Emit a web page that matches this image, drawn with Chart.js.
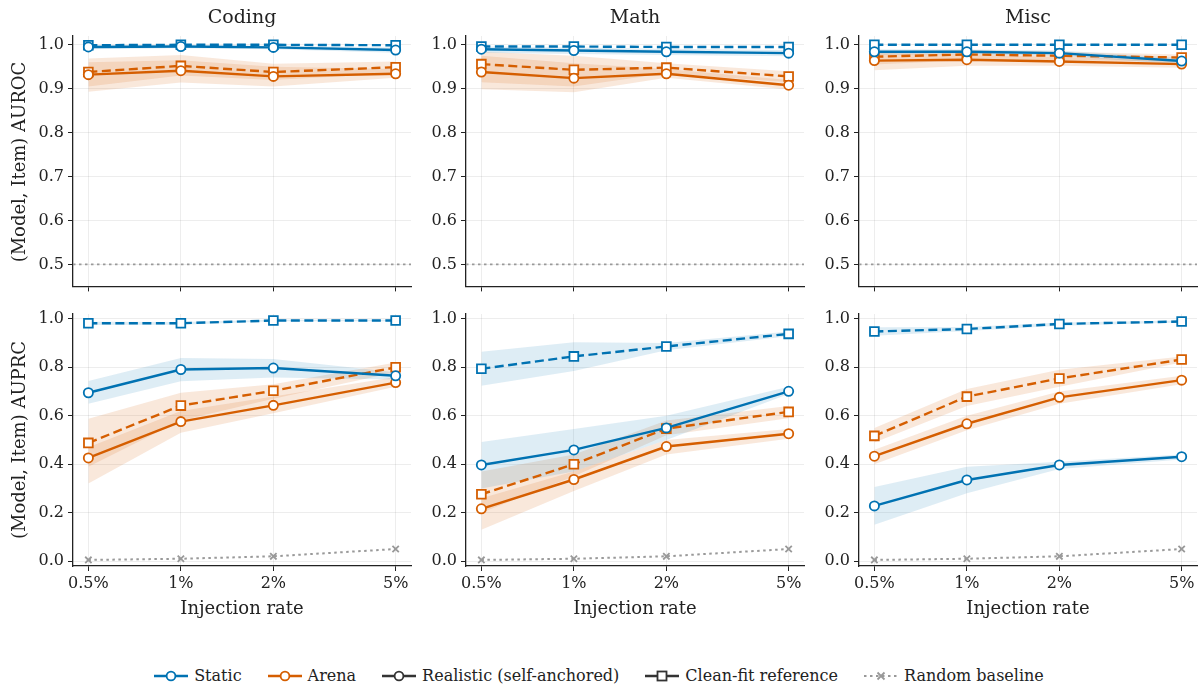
<!DOCTYPE html>
<html>
<head>
<meta charset="utf-8">
<script src="https://cdn.jsdelivr.net/npm/chart.js@4/dist/chart.umd.min.js"></script>
<style>
body{margin:0;width:1198px;height:687px;background:#fff;position:relative;overflow:hidden;font-family:'DejaVu Serif',serif;color:#222}
canvas{position:absolute}
.txt{position:absolute;white-space:nowrap;transform:translate(-50%,-50%)}
.title{font-size:19px}
.xlab{font-size:18px}
.ylab{font-size:18px;transform:translate(-50%,-50%) rotate(-90deg)}
#legend{position:absolute;left:0;width:1198px;top:666px;display:flex;justify-content:center;gap:26px;font-size:16px}
#legend span{display:flex;align-items:center;gap:6px}
</style>
</head>
<body>
<canvas id="c0" width="399" height="280" style="left:13px;top:20px"></canvas>
<canvas id="c1" width="399" height="280" style="left:406px;top:20px"></canvas>
<canvas id="c2" width="399" height="280" style="left:799px;top:20px"></canvas>
<canvas id="c3" width="399" height="304" style="left:13px;top:298px"></canvas>
<canvas id="c4" width="399" height="304" style="left:406px;top:298px"></canvas>
<canvas id="c5" width="399" height="304" style="left:799px;top:298px"></canvas>

<div class="txt title" style="left:242px;top:16px">Coding</div>
<div class="txt title" style="left:635px;top:16px">Math</div>
<div class="txt title" style="left:1028px;top:16px">Misc</div>
<div class="txt ylab" style="left:18px;top:162px">(Model, Item) AUROC</div>
<div class="txt ylab" style="left:18px;top:440px">(Model, Item) AUPRC</div>
<div class="txt xlab" style="left:242px;top:607px">Injection rate</div>
<div class="txt xlab" style="left:635px;top:607px">Injection rate</div>
<div class="txt xlab" style="left:1028px;top:607px">Injection rate</div>

<div id="legend">
  <span><svg width="34" height="12"><line x1="0" y1="6" x2="34" y2="6" stroke="#0072B2" stroke-width="2.4"/><circle cx="17" cy="6" r="4.4" fill="#fff" stroke="#0072B2" stroke-width="1.8"/></svg>Static</span>
  <span><svg width="34" height="12"><line x1="0" y1="6" x2="34" y2="6" stroke="#D55E00" stroke-width="2.4"/><circle cx="17" cy="6" r="4.4" fill="#fff" stroke="#D55E00" stroke-width="1.8"/></svg>Arena</span>
  <span><svg width="34" height="12"><line x1="0" y1="6" x2="34" y2="6" stroke="#333" stroke-width="2.4"/><circle cx="17" cy="6" r="4.4" fill="#fff" stroke="#333" stroke-width="1.8"/></svg>Realistic (self-anchored)</span>
  <span><svg width="34" height="12"><line x1="0" y1="6" x2="34" y2="6" stroke="#333" stroke-width="2.4"/><rect x="12.5" y="1.5" width="9" height="9" fill="#fff" stroke="#333" stroke-width="1.8"/></svg>Clean-fit reference</span>
  <span><svg width="34" height="12"><line x1="0" y1="6" x2="34" y2="6" stroke="#999" stroke-width="2.2" stroke-dasharray="2.5,3.5"/><path d="M13.5 2.5 L20.5 9.5 M20.5 2.5 L13.5 9.5" stroke="#999" stroke-width="1.8"/></svg>Random baseline</span>
</div>

<script>
// injection rates (%), log x axis
const rates = [0.5, 1, 2, 5];
const rateLabels = ['0.5%', '1%', '2%', '5%'];

// AUROC - Coding
const rocCodingStatic = [0.995, 0.996, 0.994, 0.988];
const rocCodingStaticBand = [[0.990, 0.999], [0.992, 0.999], [0.990, 0.998], [0.982, 0.994]];
const rocCodingStaticClean = [0.999, 1.0, 1.0, 0.999];
const rocCodingArena = [0.932, 0.941, 0.928, 0.934];
const rocCodingArenaBand = [[0.893, 0.960], [0.914, 0.965], [0.905, 0.950], [0.925, 0.945]];
const rocCodingArenaClean = [0.938, 0.952, 0.938, 0.949];
const rocCodingArenaCleanBand = [[0.905, 0.969], [0.930, 0.977], [0.920, 0.957], [0.935, 0.962]];

// AUROC - Math
const rocMathStatic = [0.990, 0.987, 0.984, 0.981];
const rocMathStaticBand = [[0.982, 0.996], [0.979, 0.994], [0.977, 0.991], [0.974, 0.988]];
const rocMathStaticClean = [0.996, 0.996, 0.995, 0.995];
const rocMathArena = [0.938, 0.924, 0.934, 0.908];
const rocMathArenaBand = [[0.899, 0.975], [0.892, 0.958], [0.925, 0.945], [0.898, 0.920]];
const rocMathArenaClean = [0.956, 0.943, 0.948, 0.928];
const rocMathArenaCleanBand = [[0.915, 0.984], [0.905, 0.975], [0.935, 0.958], [0.915, 0.940]];

// AUROC - Misc
const rocMiscStatic = [0.984, 0.984, 0.981, 0.963];
const rocMiscStaticBand = [[0.978, 0.990], [0.978, 0.989], [0.975, 0.987], [0.955, 0.970]];
const rocMiscStaticClean = [1.0, 1.0, 1.0, 1.0];
const rocMiscArena = [0.964, 0.966, 0.962, 0.956];
const rocMiscArenaBand = [[0.942, 0.980], [0.952, 0.978], [0.952, 0.972], [0.948, 0.965]];
const rocMiscArenaClean = [0.973, 0.978, 0.975, 0.971];
const rocMiscArenaCleanBand = [[0.955, 0.985], [0.965, 0.988], [0.965, 0.984], [0.962, 0.978]];

// AUPRC - Coding
const prCodingStatic = [0.695, 0.791, 0.797, 0.765];
const prCodingStaticBand = [[0.650, 0.744], [0.742, 0.838], [0.758, 0.834], [0.750, 0.780]];
const prCodingStaticClean = [0.982, 0.982, 0.993, 0.993];
const prCodingStaticCleanBand = [[0.975, 0.988], [0.976, 0.987], [0.990, 0.996], [0.990, 0.996]];
const prCodingArena = [0.426, 0.576, 0.643, 0.737];
const prCodingArenaBand = [[0.320, 0.470], [0.530, 0.620], [0.610, 0.680], [0.720, 0.760]];
const prCodingArenaClean = [0.488, 0.642, 0.703, 0.800];
const prCodingArenaCleanBand = [[0.390, 0.588], [0.580, 0.695], [0.670, 0.730], [0.780, 0.820]];

// AUPRC - Math
const prMathStatic = [0.397, 0.459, 0.550, 0.701];
const prMathStaticBand = [[0.300, 0.492], [0.370, 0.545], [0.500, 0.600], [0.690, 0.720]];
const prMathStaticClean = [0.794, 0.845, 0.886, 0.938];
const prMathStaticCleanBand = [[0.724, 0.864], [0.785, 0.903], [0.870, 0.900], [0.928, 0.948]];
const prMathArena = [0.216, 0.337, 0.473, 0.526];
const prMathArenaBand = [[0.130, 0.260], [0.290, 0.370], [0.440, 0.500], [0.505, 0.545]];
const prMathArenaClean = [0.276, 0.400, 0.547, 0.616];
const prMathArenaCleanBand = [[0.200, 0.370], [0.350, 0.440], [0.520, 0.580], [0.590, 0.640]];

// AUPRC - Misc
const prMiscStatic = [0.228, 0.335, 0.397, 0.431];
const prMiscStaticBand = [[0.150, 0.306], [0.280, 0.390], [0.380, 0.410], [0.420, 0.440]];
const prMiscStaticClean = [0.948, 0.958, 0.979, 0.989];
const prMiscStaticCleanBand = [[0.930, 0.965], [0.950, 0.966], [0.972, 0.985], [0.985, 0.993]];
const prMiscArena = [0.433, 0.567, 0.676, 0.747];
const prMiscArenaBand = [[0.400, 0.460], [0.540, 0.600], [0.650, 0.700], [0.730, 0.765]];
const prMiscArenaClean = [0.517, 0.679, 0.754, 0.832];
const prMiscArenaCleanBand = [[0.490, 0.550], [0.640, 0.710], [0.720, 0.790], [0.820, 0.845]];

// random baselines
const randomAuroc = 0.5;
const randomAuprc = [0.005, 0.01, 0.02, 0.05];

const BLUE = '#0072B2', ORANGE = '#D55E00', GRAY = '#999999';
const BLUE_BAND = 'rgba(0,114,178,0.13)', ORANGE_BAND = 'rgba(213,94,0,0.14)';

Chart.defaults.font.family = "'DejaVu Serif', serif";
Chart.defaults.font.size = 16;
Chart.defaults.color = '#222';

const pts = vals => rates.map((r, i) => ({x: r, y: vals[i]}));

// horizontal dotted chance line for the AUROC row
const chanceLine = {
  id: 'chanceLine',
  beforeDatasetsDraw(chart, args, opts) {
    if (opts.value == null) return;
    const {ctx, chartArea} = chart;
    const y = chart.scales.y.getPixelForValue(opts.value);
    ctx.save();
    ctx.strokeStyle = GRAY;
    ctx.lineWidth = 1.8;
    ctx.setLineDash([2.5, 3.5]);
    ctx.beginPath();
    ctx.moveTo(chartArea.left, y);
    ctx.lineTo(chartArea.right, y);
    ctx.stroke();
    ctx.restore();
  }
};

function lineSet(vals, color, clean) {
  return {
    data: pts(vals), borderColor: color, borderWidth: 2.4,
    borderDash: clean ? [9, 4.5] : [],
    pointStyle: clean ? 'rect' : 'circle',
    pointRadius: clean ? 6.2 : 4.6,
    pointBackgroundColor: '#fff', pointBorderColor: color, pointBorderWidth: 1.8,
    fill: false, tension: 0
  };
}

function bandSets(band, color) {
  return [
    {data: pts(band.map(b => b[1])), borderWidth: 0, pointRadius: 0, fill: false},
    {data: pts(band.map(b => b[0])), borderWidth: 0, pointRadius: 0, fill: '-1', backgroundColor: color}
  ];
}

function makePanel(id, row, s) {
  const top = row === 0;
  const datasets = [
    lineSet(s.static, BLUE, false),
    lineSet(s.staticClean, BLUE, true),
    lineSet(s.arena, ORANGE, false),
    lineSet(s.arenaClean, ORANGE, true)
  ];
  if (!top) {
    datasets.push({
      data: pts(randomAuprc), borderColor: GRAY, borderWidth: 2, borderDash: [2.5, 3.5],
      pointStyle: 'crossRot', pointRadius: 4.5, pointBorderColor: GRAY, pointBorderWidth: 1.8, fill: false
    });
  }
  if (s.staticBand) datasets.push(...bandSets(s.staticBand, BLUE_BAND));
  if (s.staticCleanBand) datasets.push(...bandSets(s.staticCleanBand, BLUE_BAND));
  if (s.arenaBand) datasets.push(...bandSets(s.arenaBand, ORANGE_BAND));
  if (s.arenaCleanBand) datasets.push(...bandSets(s.arenaCleanBand, ORANGE_BAND));

  const yTicks = top ? [0.5, 0.6, 0.7, 0.8, 0.9, 1.0] : [0.0, 0.2, 0.4, 0.6, 0.8, 1.0];
  new Chart(document.getElementById(id), {
    type: 'line',
    data: {datasets},
    plugins: [chanceLine],
    options: {
      responsive: false, animation: false,
      layout: {padding: {top: 16, right: 1, left: 0, bottom: 0}, autoPadding: false},
      plugins: {legend: {display: false}, tooltip: {enabled: false},
                chanceLine: {value: top ? randomAuroc : null}},
      scales: {
        x: {
          type: 'logarithmic', min: 0.4456, max: 5.61,
          afterBuildTicks: sc => { sc.ticks = rates.map(v => ({value: v})); },
          afterFit: sc => { sc.height = top ? 12 : 36; },
          ticks: {autoSkip: false, maxRotation: 0, padding: 3,
                  callback: (v, i) => top ? '' : rateLabels[i]},
          grid: {color: 'rgba(0,0,0,0.07)', lineWidth: 1, tickColor: '#222', tickLength: 5},
          border: {color: '#222', width: 1.3}
        },
        y: {
          min: top ? 0.45 : -0.02, max: 1.02,
          afterBuildTicks: sc => { sc.ticks = yTicks.map(v => ({value: v})); },
          afterFit: sc => { sc.width = 60; },
          ticks: {padding: 4, callback: v => v.toFixed(1)},
          grid: {color: 'rgba(0,0,0,0.07)', lineWidth: 1, tickColor: '#222', tickLength: 5},
          border: {color: '#222', width: 1.3}
        }
      }
    }
  });
}

makePanel('c0', 0, {static: rocCodingStatic, staticBand: rocCodingStaticBand, staticClean: rocCodingStaticClean,
  arena: rocCodingArena, arenaBand: rocCodingArenaBand, arenaClean: rocCodingArenaClean, arenaCleanBand: rocCodingArenaCleanBand});
makePanel('c1', 0, {static: rocMathStatic, staticBand: rocMathStaticBand, staticClean: rocMathStaticClean,
  arena: rocMathArena, arenaBand: rocMathArenaBand, arenaClean: rocMathArenaClean, arenaCleanBand: rocMathArenaCleanBand});
makePanel('c2', 0, {static: rocMiscStatic, staticBand: rocMiscStaticBand, staticClean: rocMiscStaticClean,
  arena: rocMiscArena, arenaBand: rocMiscArenaBand, arenaClean: rocMiscArenaClean, arenaCleanBand: rocMiscArenaCleanBand});
makePanel('c3', 1, {static: prCodingStatic, staticBand: prCodingStaticBand, staticClean: prCodingStaticClean, staticCleanBand: prCodingStaticCleanBand,
  arena: prCodingArena, arenaBand: prCodingArenaBand, arenaClean: prCodingArenaClean, arenaCleanBand: prCodingArenaCleanBand});
makePanel('c4', 1, {static: prMathStatic, staticBand: prMathStaticBand, staticClean: prMathStaticClean, staticCleanBand: prMathStaticCleanBand,
  arena: prMathArena, arenaBand: prMathArenaBand, arenaClean: prMathArenaClean, arenaCleanBand: prMathArenaCleanBand});
makePanel('c5', 1, {static: prMiscStatic, staticBand: prMiscStaticBand, staticClean: prMiscStaticClean, staticCleanBand: prMiscStaticCleanBand,
  arena: prMiscArena, arenaBand: prMiscArenaBand, arenaClean: prMiscArenaClean, arenaCleanBand: prMiscArenaCleanBand});
</script>
</body>
</html>
